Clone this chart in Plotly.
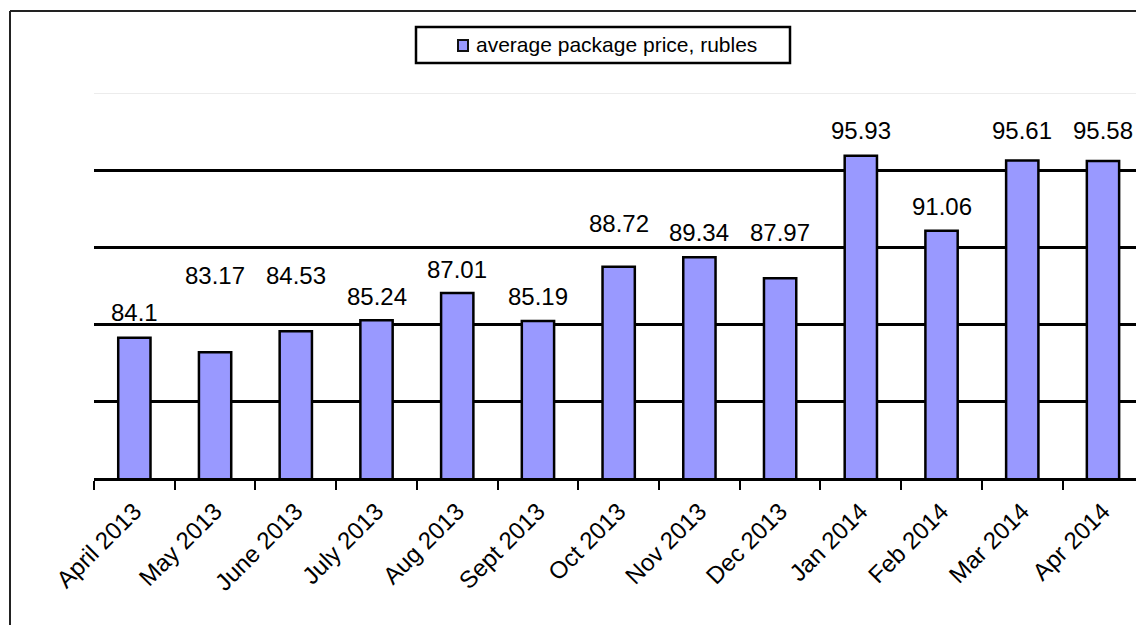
import plotly.graph_objects as go

months = ["April 2013", "May 2013", "June 2013", "July 2013", "Aug 2013", "Sept 2013",
          "Oct 2013", "Nov 2013", "Dec 2013", "Jan 2014", "Feb 2014", "Mar 2014", "Apr 2014"]
prices = [84.1, 83.17, 84.53, 85.24, 87.01, 85.19, 88.72, 89.34, 87.97, 95.93, 91.06, 95.61, 95.58]
label_texts = ["84.1", "83.17", "84.53", "85.24", "87.01", "85.19", "88.72", "89.34",
               "87.97", "95.93", "91.06", "95.61", "95.58"]
series_name = "average package price, rubles"

# style: pixel gap between bar top and its value label (labels were hand-placed in the original)
label_gap_px = [16, 67, 46, 14, 14, 15, 34, 15, 36, 16, 15, 21, 21]

FONT = "Liberation Sans, Arial, sans-serif"
BAR_COLOR = "#9999FF"

# plot area geometry (pixels) used to place the legend/frame in paper coords
L, T, B, W, H = 94, 93, 147, 1136, 625
PW, PH = W - L, H - T - B
def px(x): return (x - L) / PW
def py(y): return (H - B - y) / PH

fig = go.Figure()
fig.add_trace(go.Bar(
    x=months, y=prices, name=series_name,
    width=0.4,
    marker=dict(color=BAR_COLOR, line=dict(color="black", width=2.5)),
    showlegend=False,
))

for m, v, t, g in zip(months, prices, label_texts, label_gap_px):
    fig.add_annotation(x=m, y=v, text=t, showarrow=False, yanchor="bottom",
                       yshift=g - 6, font=dict(size=24, color="black", family=FONT))

# light top gridline at 100
fig.add_shape(type="line", xref="paper", yref="y", x0=0, x1=1, y0=100, y1=100,
              line=dict(color="#d9d9d9", width=1))
# outer chart frame (left and top edges)
fig.add_shape(type="line", xref="paper", yref="paper", x0=px(10), x1=px(10),
              y0=py(11), y1=py(640), line=dict(color="#222", width=2))
fig.add_shape(type="line", xref="paper", yref="paper", x0=px(10), x1=px(1150),
              y0=py(11), y1=py(11), line=dict(color="#222", width=2))

# legend box
fig.add_shape(type="rect", xref="paper", yref="paper", x0=px(416), x1=px(790),
              y0=py(63), y1=py(27), line=dict(color="black", width=2.5), fillcolor="white")
fig.add_shape(type="rect", xref="paper", yref="paper", x0=px(458), x1=px(468),
              y0=py(51), y1=py(40), line=dict(color="#111", width=2), fillcolor=BAR_COLOR)
fig.add_annotation(xref="paper", yref="paper", x=px(474), y=py(45), text=series_name,
                   showarrow=False, xanchor="left", yanchor="middle",
                   font=dict(size=21, color="black", family=FONT))

fig.update_layout(
    width=W, height=H,
    margin=dict(l=L, r=0, t=T, b=B),
    plot_bgcolor="white", paper_bgcolor="white",
    font=dict(family=FONT, size=21, color="black"),
    showlegend=False,
    xaxis=dict(
        type="category", categoryorder="array", categoryarray=months,
        range=[-0.5, 12.409], tickangle=-45,
        ticks="outside", tickson="boundaries", ticklen=9, tickwidth=2, tickcolor="black",
        ticklabelstandoff=7,
        showline=True, linecolor="black", linewidth=2.5,
        showgrid=False, zeroline=False,
        tickfont=dict(size=24, family=FONT),
    ),
    yaxis=dict(
        range=[75, 100], tickvals=[80, 85, 90, 95], showticklabels=False,
        showgrid=True, gridcolor="black", gridwidth=2.5,
        zeroline=False, showline=False, ticks="",
    ),
)

fig.write_html("out.html")
